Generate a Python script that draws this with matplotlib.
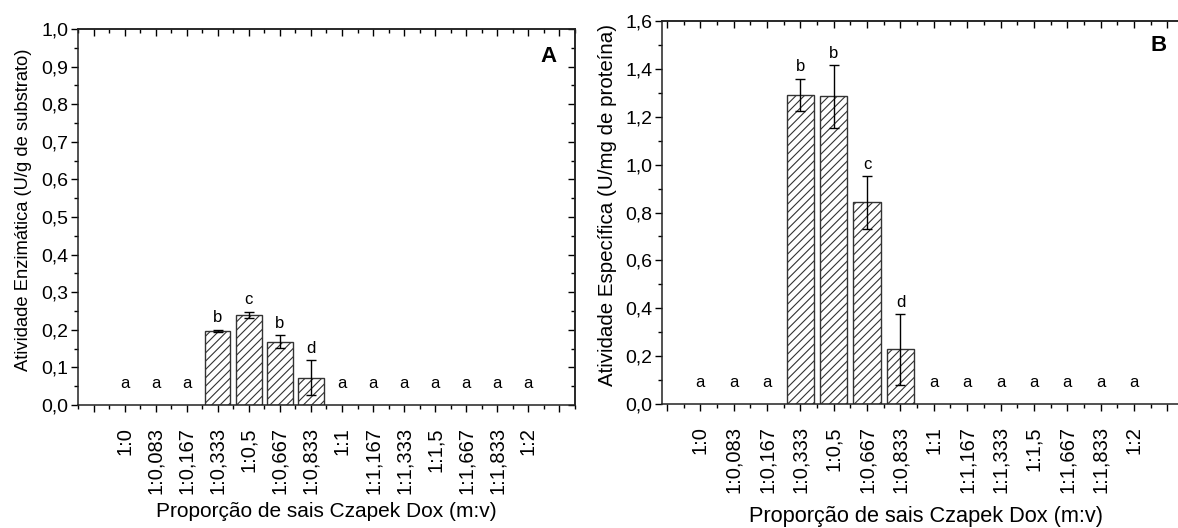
import matplotlib
matplotlib.use("Agg")
import matplotlib.pyplot as plt
from matplotlib.ticker import MultipleLocator, FuncFormatter, NullFormatter

plt.rcParams['font.family'] = ['Liberation Sans', 'DejaVu Sans']
plt.rcParams['hatch.linewidth'] = 0.8

# Czapek Dox salt proportions (m:v)
categorias = ['1:0', '1:0,083', '1:0,167', '1:0,333', '1:0,5', '1:0,667', '1:0,833',
              '1:1', '1:1,167', '1:1,333', '1:1,5', '1:1,667', '1:1,833', '1:2']

# Panel A - enzymatic activity (U/g substrate)
atividade = [0, 0, 0, 0.197, 0.240, 0.168, 0.073, 0, 0, 0, 0, 0, 0, 0]
atividade_err = [0, 0, 0, 0.003, 0.008, 0.017, 0.046, 0, 0, 0, 0, 0, 0, 0]
letras_a = ['a', 'a', 'a', 'b', 'c', 'b', 'd', 'a', 'a', 'a', 'a', 'a', 'a', 'a']

# Panel B - specific activity (U/mg protein)
especifica = [0, 0, 0, 1.291, 1.285, 0.843, 0.228, 0, 0, 0, 0, 0, 0, 0]
especifica_err = [0, 0, 0, 0.068, 0.132, 0.110, 0.148, 0, 0, 0, 0, 0, 0, 0]
letras_b = ['a', 'a', 'a', 'b', 'b', 'c', 'd', 'a', 'a', 'a', 'a', 'a', 'a', 'a']


def comma(v, pos):
    return f"{v:.1f}".replace('.', ',')


def cat_label(v, pos):
    i = int(round(v))
    return categorias[i] if 0 <= i < len(categorias) else ''


def Painel(ax, valores, erros, letras, ymax, ystep, xlim, ylabel,
           ylabel_fs, xlabel_fs):
    x = list(range(len(categorias)))
    for i in x:
        if valores[i] > 0:
            ax.bar(i, valores[i], width=0.82, color='white', edgecolor='#333333',
                   hatch='////', linewidth=1.0, zorder=2)
            ax.errorbar(i, valores[i], yerr=erros[i], color='black', capsize=3.5,
                        elinewidth=1.0, capthick=1.0, zorder=3)
            ax.annotate(letras[i], (i, valores[i] + erros[i]), xytext=(0, 8.5),
                        textcoords='offset points', ha='center', va='center', fontsize=12)
        else:
            ax.annotate(letras[i], (i, 0), xytext=(0, 15.5),
                        textcoords='offset points', ha='center', va='center', fontsize=12)

    ax.set_xlim(*xlim)
    ax.set_ylim(0, ymax)
    ax.yaxis.set_major_locator(MultipleLocator(ystep))
    ax.yaxis.set_minor_locator(MultipleLocator(ystep / 2))
    ax.yaxis.set_major_formatter(FuncFormatter(comma))
    ax.xaxis.set_major_locator(MultipleLocator(1))
    ax.xaxis.set_minor_locator(MultipleLocator(0.5))
    ax.xaxis.set_major_formatter(FuncFormatter(cat_label))

    ax.tick_params(axis='x', which='major', direction='out', length=5, width=1,
                   labelsize=14.5, labelrotation=90, pad=11)
    ax.tick_params(axis='x', which='minor', direction='out', length=3, width=1)
    ax.tick_params(axis='y', which='major', direction='out', length=5, width=1,
                   labelsize=14, pad=2)
    ax.tick_params(axis='y', which='minor', direction='out', length=3, width=1)
    for lbl in ax.get_xticklabels():
        lbl.set_verticalalignment('top')

    # mirrored ticks on top and right point inward
    top = ax.secondary_xaxis('top')
    top.xaxis.set_major_locator(MultipleLocator(1))
    top.xaxis.set_minor_locator(MultipleLocator(0.5))
    top.xaxis.set_major_formatter(NullFormatter())
    top.tick_params(which='major', direction='in', length=5, width=1)
    top.tick_params(which='minor', direction='in', length=3, width=1)
    right = ax.secondary_yaxis('right')
    right.yaxis.set_major_locator(MultipleLocator(ystep))
    right.yaxis.set_minor_locator(MultipleLocator(ystep / 2))
    right.yaxis.set_major_formatter(NullFormatter())
    right.tick_params(which='major', direction='in', length=5, width=1)
    right.tick_params(which='minor', direction='in', length=3, width=1)

    for s in list(ax.spines.values()) + [top.spines['top'], right.spines['right']]:
        s.set_linewidth(1.1)
        s.set_color('#222222')

    ax.set_ylabel(ylabel, fontsize=ylabel_fs)
    ax.set_xlabel("Proporção de sais Czapek Dox (m:v)", fontsize=xlabel_fs)
    return ax


fig = plt.figure(figsize=(11.78, 5.28), dpi=100)
axA = fig.add_axes([0.0662, 0.233, 0.4219, 0.712])
axB = fig.add_axes([0.562, 0.2348, 0.4487, 0.7254])

Painel(axA, atividade, atividade_err, letras_a, 1.0, 0.1, (-1.5, 14.5),
       "Atividade Enzimática (U/g de substrato)", 13.2, 15)
Painel(axB, especifica, especifica_err, letras_b, 1.6, 0.2, (-1.15, 14.7),
       "Atividade Específica (U/mg de proteína)", 14.8, 15.7)

axA.text(0.946, 0.926, 'A', transform=axA.transAxes, fontsize=16, fontweight='bold',
         ha='center', va='center')
axB.text(0.939, 0.935, 'B', transform=axB.transAxes, fontsize=16, fontweight='bold',
         ha='center', va='center')

axA.xaxis.set_label_coords(0.5, -0.258)
axB.xaxis.set_label_coords(0.5, -0.265)
axA.yaxis.set_label_coords(-0.093, 0.519)
axB.yaxis.set_label_coords(-0.085, 0.52)

fig.savefig("out.png", dpi=100)
